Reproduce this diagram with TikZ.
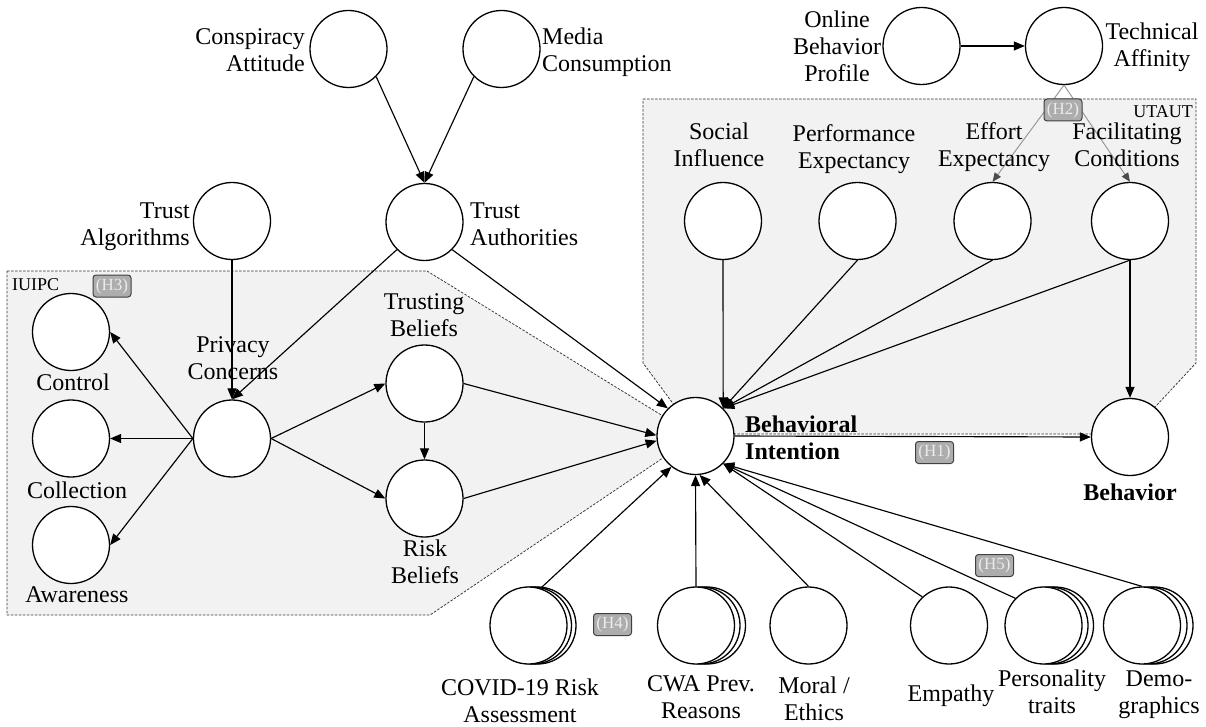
\documentclass[tikz,border=0pt]{standalone}
\usepackage{fontspec}
\setmainfont{Liberation Serif}
\usetikzlibrary{arrows.meta}
\definecolor{regionfill}{HTML}{F2F2F2}

\begin{document}
\begin{tikzpicture}[x=1pt,y=-1pt,
  construct/.style={circle,draw=black,fill=white,line width=1.3pt,minimum size=77pt,inner sep=0pt},
  link/.style={line width=1.15pt,-{Triangle[length=11pt,width=9pt]}},
  modlink/.style={line width=1pt,draw=black!40,-{Triangle[length=9pt,width=7.5pt,color=black!70]}},
  txt/.style={inner sep=0pt,font=\fontsize{24}{27}\selectfont},
  % multi-line names are placed by the baseline of their last line
  ctxt/.style={txt,align=center,anchor=base},
  rtxt/.style={txt,align=right,anchor=base east},
  ltxt/.style={txt,align=left,anchor=base west},
  boldtxt/.style={font=\fontsize{24}{27}\selectfont\bfseries},
  region/.style={fill=regionfill,draw=black!80,line width=0.75pt,dash pattern=on 2.5pt off 1.5pt},
  regionname/.style={inner sep=0pt,font=\fontsize{18}{20}\selectfont},
  hyp/.style={rounded corners=3pt,fill=black!32,draw=black!75,line width=1pt,
    minimum width=38pt,minimum height=22pt,inner sep=0pt,text=black!8,
    font=\fontsize{17}{18}\selectfont},
  backring/.style={draw=black,fill=white,line width=1.3pt},
]
\useasboundingbox (0,0) rectangle (1206,727);

% model regions
\draw[region] (7,271) -- (427,271) -- (695.5,436) -- (430,615) -- (7,615) -- cycle;
\draw[region] (643,99) -- (1196,99) -- (1196,363) -- (1130,434) -- (695.5,434) -- (643,363) -- cycle;
\node[regionname,anchor=base west] (iuipcname) at (12,290) {IUIPC};
\node[regionname,anchor=base east] (utautname) at (1193,118) {UTAUT};

% top constructs
\node[construct] (consp) at (348.5,49) {};
\node[construct] (media) at (501.5,49) {};
\node[construct] (talg) at (232,221) {};
\node[construct] (tauth) at (424.5,222) {};
\node[construct] (online) at (921.5,46) {};
\node[construct] (tech) at (1064,46) {};

% UTAUT constructs
\node[construct] (soc) at (723,221) {};
\node[construct] (perf) at (857.5,221) {};
\node[construct] (eff) at (992.5,221) {};
\node[construct] (fac) at (1130,221) {};

% IUIPC constructs
\node[construct] (pc) at (232,438.5) {};
\node[construct] (ctrl) at (71,332) {};
\node[construct] (coll) at (71,438.5) {};
\node[construct] (aware) at (71,545) {};
\node[construct] (tb) at (424.5,383.5) {};
\node[construct] (rb) at (424.5,498.5) {};

% outcome constructs
\node[construct] (bi) at (695.5,436) {};
\node[construct] (beh) at (1130,437) {};

% lower constructs (stacked ones are multi-item)
\foreach \dx in {9,4.5} \draw[backring] (528.5+\dx,625.5) circle[radius=38.5];
\node[construct] (covid) at (528.5,625.5) {};
\foreach \dx in {11,5.5} \draw[backring] (696,625.5) ++(\dx,0) circle[radius=38.5];
\node[construct] (cwa) at (696,625.5) {};
\node[construct] (moral) at (808.5,625.5) {};
\node[construct] (emp) at (949,625.5) {};
\foreach \dx in {11.5,6} \draw[backring] (1043.5,625.5) ++(\dx,0) circle[radius=38.5];
\node[construct] (pers) at (1043.5,625.5) {};
\foreach \dx in {12.5,6.5} \draw[backring] (1142,625.5) ++(\dx,0) circle[radius=38.5];
\node[construct] (demo) at (1142,625.5) {};

% paths
\draw[link] (consp.-45) -- (tauth.north);
\draw[link] (media.225) -- (tauth.north);
\draw[link] (online.east) -- (tech.west);
\draw[link] (talg.south) -- (pc.north);
\draw[link] (tauth.225) -- (pc.north);
\draw[link] (tauth.-45) -- (bi.135);
\draw[link] (pc.west) -- (ctrl.east);
\draw[link] (pc.west) -- (coll.east);
\draw[link] (pc.west) -- (aware.east);
\draw[link] (pc.east) -- (tb.west);
\draw[link] (pc.east) -- (rb.west);
\draw[link] (tb.south) -- (rb.north);
\draw[link] (tb.east) -- (bi.179);
\draw[link] (rb.east) -- (bi.187);
\draw[link] (soc.south) -- (bi.45);
\draw[link] (perf.south) -- (bi.45);
\draw[link] (eff.south) -- (bi.45);
\draw[link] (fac.south) -- (bi.45);
\draw[link] (fac.south) -- (beh.north);
\draw[link] (bi.east) -- (beh.west);
\draw[link] (covid.72) -- (bi.232);
\draw[link] (cwa.north) -- (bi.south);
\draw[link] (moral.north) -- (bi.276);
\draw[link] (emp.133) -- (bi.315);
\draw[link] (pers.136) -- (bi.315);
\draw[link] (demo.north) -- (bi.315);
\draw[modlink] (tech.south) -- (eff.north);
\draw[modlink] (tech.south) -- (fac.north);

% hypothesis tags
\node[hyp] (h1) at (934.5,452.5) {(H1)};
\node[hyp] (h2) at (1063,110) {(H2)};
\node[hyp] (h3) at (112,286) {(H3)};
\node[hyp] (h4) at (612.5,624.5) {(H4)};
\node[hyp] (h5) at (994.5,565.5) {(H5)};

% construct names
\node[rtxt] (conspname) at (305,72) {Conspiracy\\Attitude};
\node[ltxt] (medianame) at (542,72) {Media\\Consumption};
\node[rtxt] (talgname) at (190,245) {Trust\\Algorithms};
\node[ltxt] (tauthname) at (470,246) {Trust\\Authorities};
\node[ctxt] (onlinename) at (837,82) {Online\\Behavior\\Profile};
\node[ctxt] (techname) at (1152,67) {Technical\\Affinity};
\node[ctxt] (socname) at (719,167) {Social\\Influence};
\node[ctxt] (perfname) at (854,169) {Performance\\Expectancy};
\node[ctxt] (effname) at (994,167) {Effort\\Expectancy};
\node[ctxt] (facname) at (1127,167) {Facilitating\\Conditions};
\node[ctxt] (pcname) at (233,379) {Privacy\\Concerns};
\node[ctxt] (tbname) at (424,336) {Trusting\\Beliefs};
\node[ctxt] (rbname) at (425,583) {Risk\\Beliefs};
\node[ctxt] (ctrlname) at (73,390) {Control};
\node[ctxt] (collname) at (77,498) {Collection};
\node[ctxt] (awarename) at (77,602) {Awareness};
\node[ltxt,boldtxt] (biname) at (745,459) {Behavioral\\Intention};
\node[ctxt,boldtxt] (behname) at (1130,500) {Behavior};
\node[ctxt] (covidname) at (520,722) {COVID-19 Risk\\Assessment};
\node[ctxt] (cwaname) at (701,718) {CWA Prev.\\Reasons};
\node[ctxt] (moralname) at (814,720) {Moral /\\Ethics};
\node[ctxt] (empname) at (951,701) {Empathy};
\node[ctxt] (persname) at (1052,713) {Personality\\traits};
\node[ctxt] (demoname) at (1159,713) {Demo-\\graphics};
\end{tikzpicture}
\end{document}
